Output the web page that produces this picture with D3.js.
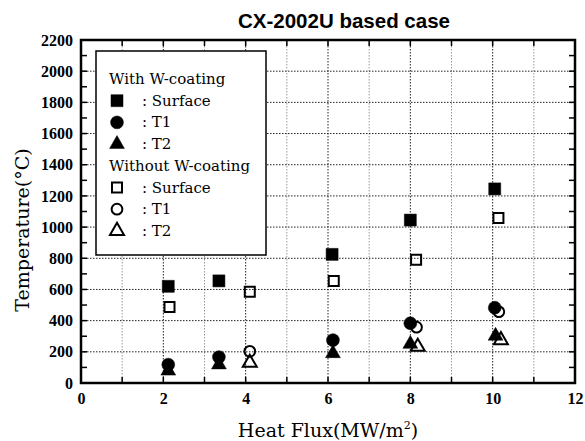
<!DOCTYPE html>
<html>
<head>
<meta charset="utf-8">
<script src="https://cdn.jsdelivr.net/npm/d3@7"></script>
<style>
  body { margin: 0; background: #fff; }
  svg { display: block; }
</style>
</head>
<body>
<div class="svgcontainer"></div>
<script>
// tick values
const xTicks = [0, 2, 4, 6, 8, 10, 12];
const yTicks = [0, 200, 400, 600, 800, 1000, 1200, 1400, 1600, 1800, 2000, 2200];

// with W-coating
const withSurfaceX = [2.12, 3.35, 6.1, 8.0, 10.05];
const withSurfaceY = [620, 655, 825, 1045, 1245];
const withT1X = [2.12, 3.35, 6.12, 8.0, 10.05];
const withT1Y = [118, 166, 275, 383, 483];
const withT2X = [2.12, 3.35, 6.12, 8.0, 10.07];
const withT2Y = [78, 118, 190, 250, 302];

// without W-coating
const withoutSurfaceX = [2.15, 4.1, 6.14, 8.14, 10.14];
const withoutSurfaceY = [487, 585, 654, 791, 1058];
const withoutT1X = [4.1, 8.15, 10.15];
const withoutT1Y = [203, 358, 457];
const withoutT2X = [4.1, 8.18, 10.2];
const withoutT2Y = [130, 232, 275];

const legendItems = [
    { head: "With W-coating" },
    { sym: "square", filled: true, label: ": Surface" },
    { sym: "circle", filled: true, label: ": T1" },
    { sym: "triangle", filled: true, label: ": T2" },
    { head: "Without W-coating" },
    { sym: "square", filled: false, label: ": Surface" },
    { sym: "circle", filled: false, label: ": T1" },
    { sym: "triangle", filled: false, label: ": T2" }
];

const W = 585, H = 441;
const margin = { top: 40, right: 10, bottom: 58, left: 81 };
const width = W - margin.left - margin.right;
const height = H - margin.top - margin.bottom;
const serif = '"DejaVu Serif", serif';

const svg = d3.select('.svgcontainer')
    .append('svg')
    .attr('width', W)
    .attr('height', H);

const g = svg.append('g')
    .attr('transform', `translate(${margin.left}, ${margin.top})`);

const x = d3.scaleLinear().domain([0, 12]).range([0, width]);
const y = d3.scaleLinear().domain([0, 2200]).range([height, 0]);

// grid lines
g.selectAll('.vgrid')
    .data(d3.range(1, 12))
    .enter()
    .append('line')
    .attr('x1', d => x(d)).attr('x2', d => x(d))
    .attr('y1', 0).attr('y2', height)
    .attr('stroke', d => d % 2 === 0 ? '#222' : '#999')
    .attr('stroke-width', 1)
    .attr('stroke-dasharray', '1.5,1.5');

g.selectAll('.hgrid')
    .data(yTicks.slice(1, -1))
    .enter()
    .append('line')
    .attr('x1', 0).attr('x2', width)
    .attr('y1', d => y(d)).attr('y2', d => y(d))
    .attr('stroke', '#222')
    .attr('stroke-width', 1)
    .attr('stroke-dasharray', '1.5,1.5');

// axes, labels only (tick marks drawn inward below)
const xMinor = d3.range(0, 13);
const yMinor = d3.range(0, 2201, 100);

const bottomAxis = g.append('g')
    .attr('transform', `translate(0, ${height})`)
    .call(d3.axisBottom(x).tickValues(xTicks).tickSize(0).tickPadding(10).tickFormat(d3.format('d')));
const leftAxis = g.append('g')
    .call(d3.axisLeft(y).tickValues(yTicks).tickSize(0).tickPadding(8).tickFormat(d3.format('d')));

[bottomAxis, leftAxis].forEach(ax => {
    ax.select('.domain').remove();
    ax.selectAll('text')
        .style('font-family', '"Liberation Serif", serif')
        .style('font-weight', 'bold')
        .style('font-size', '16px')
        .attr('fill', '#000');
});

// tick marks
const tickG = g.append('g').attr('stroke', '#000').attr('stroke-width', 1.5);
xMinor.forEach(v => {
    const len = 6;
    tickG.append('line').attr('x1', x(v)).attr('x2', x(v)).attr('y1', height).attr('y2', height - len);
    tickG.append('line').attr('x1', x(v)).attr('x2', x(v)).attr('y1', 0).attr('y2', len);
});
yMinor.forEach(v => {
    const len = 6;
    tickG.append('line').attr('y1', y(v)).attr('y2', y(v)).attr('x1', 0).attr('x2', len);
    tickG.append('line').attr('y1', y(v)).attr('y2', y(v)).attr('x1', width).attr('x2', width - len);
});

// frame
g.append('rect')
    .attr('width', width).attr('height', height)
    .attr('fill', 'none')
    .attr('stroke', '#000')
    .attr('stroke-width', 2.5);

// markers
const symType = { square: d3.symbolSquare, circle: d3.symbolCircle, triangle: d3.symbolTriangle };
const symSize = { square: 144, circle: 130, triangle: 95 };
const openSize = { square: 100, circle: 90, triangle: 85 };

function drawSeries(xs, ys, sym, filled) {
    g.selectAll(null)
        .data(xs.map((v, i) => ({ x: v, y: ys[i] })))
        .enter()
        .append('path')
        .attr('transform', d => `translate(${x(d.x)}, ${y(d.y)})`)
        .attr('d', d3.symbol().type(symType[sym]).size(filled ? symSize[sym] : openSize[sym]))
        .attr('fill', filled ? '#000' : 'none')
        .attr('stroke', '#000')
        .attr('stroke-width', filled ? 0.5 : 2);
}

drawSeries(withSurfaceX, withSurfaceY, 'square', true);
drawSeries(withT1X, withT1Y, 'circle', true);
drawSeries(withT2X, withT2Y, 'triangle', true);
drawSeries(withoutSurfaceX, withoutSurfaceY, 'square', false);
drawSeries(withoutT1X, withoutT1Y, 'circle', false);
drawSeries(withoutT2X, withoutT2Y, 'triangle', false);

// legend
const lg = svg.append('g').attr('transform', 'translate(96, 51)');
lg.append('rect')
    .attr('width', 170).attr('height', 204)
    .attr('fill', '#fff')
    .attr('stroke', '#000')
    .attr('stroke-width', 1.5);

legendItems.forEach((item, i) => {
    const ry = 28 + i * 21.7;
    if (item.head) {
        lg.append('text')
            .attr('x', 13).attr('y', ry + 5)
            .attr('font-family', serif)
            .attr('font-size', 15)
            .text(item.head);
    } else {
        lg.append('path')
            .attr('transform', `translate(21, ${ry})`)
            .attr('d', d3.symbol().type(symType[item.sym]).size(item.filled ? symSize[item.sym] : openSize[item.sym]))
            .attr('fill', item.filled ? '#000' : 'none')
            .attr('stroke', '#000')
            .attr('stroke-width', item.filled ? 0.5 : 2);
        lg.append('text')
            .attr('x', 46).attr('y', ry + 5)
            .attr('font-family', serif)
            .attr('font-size', 15)
            .text(item.label);
    }
});

// title
svg.append('text')
    .attr('x', 344)
    .attr('y', 28)
    .attr('text-anchor', 'middle')
    .attr('font-family', '"Liberation Sans", Arial, sans-serif')
    .attr('font-weight', 'bold')
    .attr('font-size', 20.5)
    .text('CX-2002U based case');

// axis titles
const xt = svg.append('text')
    .attr('x', margin.left + width / 2)
    .attr('y', 437)
    .attr('text-anchor', 'middle')
    .attr('font-family', serif)
    .attr('font-size', 19);
xt.append('tspan').text('Heat Flux(MW/m');
xt.append('tspan').attr('font-size', 11).attr('dy', -8).text('2');
xt.append('tspan').attr('dy', 8).text(')');

svg.append('text')
    .attr('transform', 'translate(29, 230) rotate(-90)')
    .attr('text-anchor', 'middle')
    .attr('font-family', serif)
    .attr('font-size', 19)
    .text('Temperature(\u00B0C)');
</script>
</body>
</html>
